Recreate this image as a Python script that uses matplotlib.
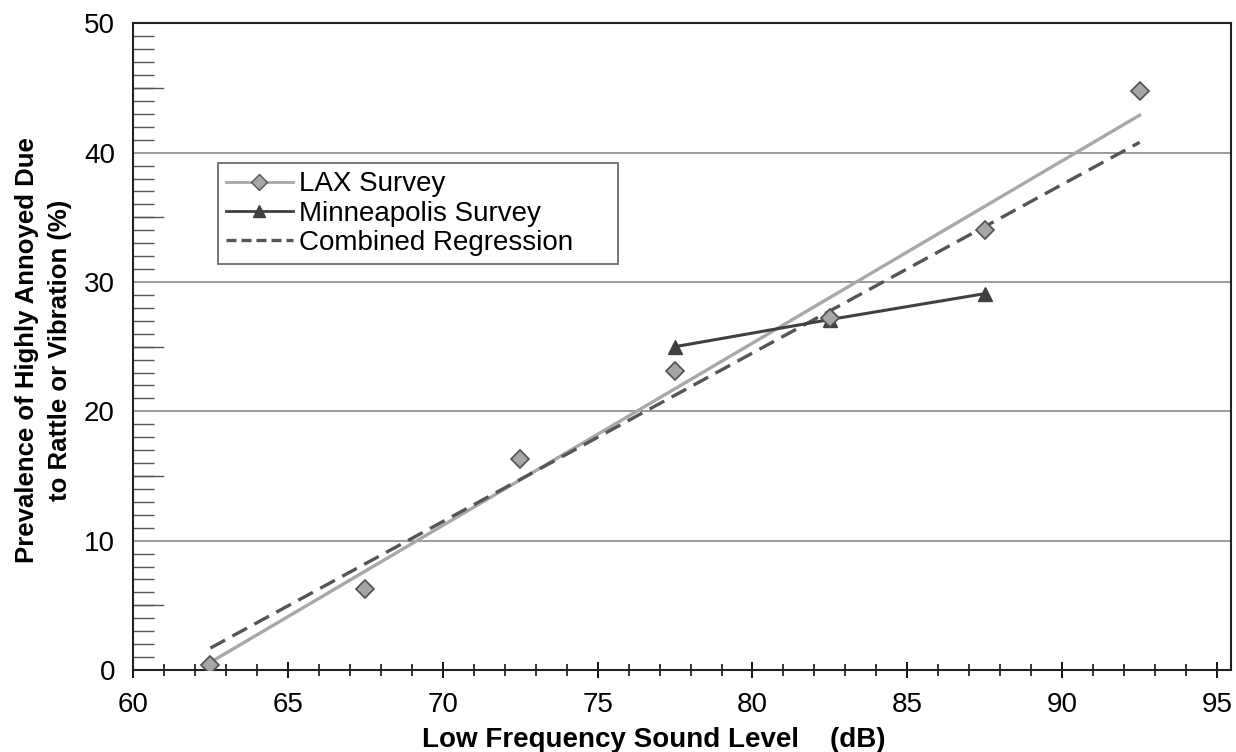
import numpy as np
import matplotlib
matplotlib.use("Agg")
import matplotlib.pyplot as plt
from matplotlib.ticker import MultipleLocator

plt.rcParams["font.family"] = ["Liberation Sans", "DejaVu Sans"]

# données
lax_x = [62.5, 67.5, 72.5, 77.5, 82.5, 87.5, 92.5]
lax_y = [0.4, 6.3, 16.3, 23.1, 27.2, 34.0, 44.8]

mpls_x = [77.5, 82.5, 87.5]
mpls_y = [25.0, 27.1, 29.1]

# droites de régression (extrémités)
fit_x = [62.5, 92.5]
lax_fit = [0.6, 42.9]
comb_fit = [1.7, 40.8]

fig = plt.figure(figsize=(12.36, 7.52), dpi=100, facecolor="white")
ax = fig.add_axes([0.1076, 0.109, 0.8884, 0.860])

for yv in [10, 20, 30, 40]:
    ax.axhline(yv, color="#8a8a8a", lw=1.2, zorder=1)

ax.plot(fit_x, lax_fit, color="#a8a8a8", lw=2.4, zorder=2)
ax.plot(fit_x, comb_fit, color="#555555", lw=2.4, ls=(0, (5, 2.5)), zorder=3)
ax.plot(mpls_x, mpls_y, color="#404040", lw=2.2, marker="^", ms=10,
        mfc="#404040", mec="#404040", zorder=4)
ax.plot(lax_x, lax_y, ls="none", marker="D", ms=9, mfc="#a6a6a6",
        mec="#505050", mew=1.2, zorder=5)

# légende (proxies)
h1, = ax.plot([], [], color="#a8a8a8", lw=2, marker="D", ms=8,
              mfc="#a6a6a6", mec="#555555")
h2, = ax.plot([], [], color="#404040", lw=2, marker="^", ms=8)
h3, = ax.plot([], [], color="#555555", lw=2.4, ls=(0, (3, 1.5)))
leg = ax.legend([h1, h2, h3],
                ["LAX Survey", "Minneapolis Survey", "Combined Regression"],
                loc="upper left", bbox_to_anchor=(0.077, 0.5, 0.3643, 0.284),
                mode="expand",
                fontsize=20, frameon=True, fancybox=False,
                handlelength=2.4, handletextpad=0.25, labelspacing=0.12,
                borderpad=0.3, borderaxespad=0)
leg.get_frame().set_edgecolor("#555555")
leg.get_frame().set_linewidth(1.4)

ax.set_xlim(60, 95.45)
ax.set_ylim(0, 50)
ax.xaxis.set_major_locator(MultipleLocator(5))
ax.xaxis.set_minor_locator(MultipleLocator(1))
ax.yaxis.set_major_locator(MultipleLocator(10))
ax.yaxis.set_minor_locator(MultipleLocator(1))

ax.tick_params(axis="x", which="major", direction="inout", length=12,
               width=1.3, labelsize=20, pad=10)
ax.tick_params(axis="x", which="minor", direction="inout", length=9, width=1.1)
ax.tick_params(axis="y", which="major", direction="in", length=0,
               labelsize=20, pad=13)
ax.tick_params(axis="y", which="minor", direction="in", length=15,
               width=1, color="#555555")

# ticks intermédiaires (5, 15, ...) plus longs
for yv in [5, 15, 25, 35, 45]:
    ax.plot([0, 30 / 1098], [yv, yv], color="#555555", lw=1,
            transform=ax.get_yaxis_transform(), clip_on=False, zorder=1)

for s in ax.spines.values():
    s.set_color("#222222")
    s.set_linewidth(1.5)

ax.set_ylabel("Prevalence of Highly Annoyed Due\nto Rattle or Vibration (%)",
              fontsize=18.5, fontweight="bold", linespacing=1.45)
ax.yaxis.set_label_coords(-0.0556, 0.495)
ax.set_xlabel("Low Frequency Sound Level    (dB)", fontsize=20,
              fontweight="bold")
ax.xaxis.set_label_coords(0.474, -0.088)

fig.savefig("out.png", dpi=100)
